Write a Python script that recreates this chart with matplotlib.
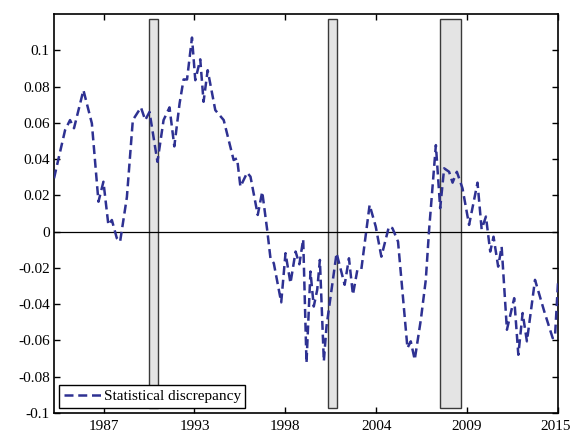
import matplotlib
matplotlib.use("Agg")
import matplotlib.pyplot as plt
import matplotlib.transforms as mtransforms

# turning points of the series (year, value)
years = [1984.50, 1985.17, 1985.47, 1985.71, 1986.28, 1986.79, 1987.19, 1987.49,
         1987.79, 1988.00, 1988.30, 1988.50, 1988.91, 1989.27, 1989.76, 1990.02,
         1990.28, 1990.76, 1991.13, 1991.49, 1991.78, 1992.10, 1992.34, 1992.55,
         1992.85, 1993.05, 1993.35, 1993.55, 1993.80, 1994.26, 1994.77, 1995.37,
         1995.58, 1995.78, 1996.19, 1996.39, 1996.83, 1997.10, 1997.40, 1997.60,
         1997.80, 1998.25, 1998.51, 1998.81, 1999.12, 1999.35, 1999.58, 1999.78,
         2000.02, 2000.22, 2000.43, 2000.59, 2000.83, 2000.99, 2001.60, 2002.09,
         2002.35, 2002.59, 2002.86, 2003.10, 2003.60, 2003.97, 2004.31, 2004.77,
         2004.98, 2005.32, 2005.89, 2006.09, 2006.33, 2006.70, 2007.00, 2007.20,
         2007.61, 2007.87, 2008.11, 2008.41, 2008.62, 2008.88, 2009.22, 2009.62,
         2010.13, 2010.38, 2010.64, 2010.90, 2011.10, 2011.38, 2011.59, 2011.91,
         2012.35, 2012.60, 2012.86, 2013.12, 2013.61, 2014.17, 2014.68, 2014.82,
         2015.00]
discrepancy = [0.0294, 0.0560, 0.0615, 0.0570, 0.0780, 0.0597, 0.0165, 0.0275,
               0.0037, 0.0064, -0.0036, -0.0055, 0.0190, 0.0615, 0.0685, 0.0615,
               0.0660, 0.0385, 0.0615, 0.0685, 0.0470, 0.0707, 0.0839, 0.0839,
               0.1070, 0.0835, 0.0950, 0.0716, 0.0890, 0.0670, 0.0615, 0.0395,
               0.0404, 0.0248, 0.0325, 0.0303, 0.0092, 0.0220, 0.0010, -0.0147,
               -0.0174, -0.0390, -0.0119, -0.0284, -0.0110, -0.0180, -0.0042, -0.0724,
               -0.0220, -0.0413, -0.0320, -0.0156, -0.0715, -0.0523, -0.0119, -0.0293,
               -0.0147, -0.0348, -0.0210, -0.0207, 0.0147, 0.0028, -0.0138, 0.0028,
               0.0019, -0.0055, -0.0642, -0.0605, -0.0706, -0.0486, -0.0266, 0.0010,
               0.0477, 0.0129, 0.0349, 0.0330, 0.0270, 0.0330, 0.0239, 0.0037,
               0.0270, 0.0013, 0.0083, -0.0110, -0.0028, -0.0193, -0.0083, -0.0541,
               -0.0367, -0.0679, -0.0449, -0.0605, -0.0266, -0.0440, -0.0587, -0.0578,
               -0.0284]

# shaded recession bands
rec_start = [1990.25, 2001.10, 2007.85]
rec_end = [1990.80, 2001.60, 2009.15]
rec_top = 0.117
rec_bottom = -0.097

xticks = [1987.5, 1993.0, 1998.5, 2004.0, 2009.5, 2015.0]
xtick_labels = ["1987", "1993", "1998", "2004", "2009", "2015"]
yticks = [-0.1, -0.08, -0.06, -0.04, -0.02, 0, 0.02, 0.04, 0.06, 0.08, 0.1]
ytick_labels = ["-0.1", "-0.08", "-0.06", "-0.04", "-0.02", "0",
                "0.02", "0.04", "0.06", "0.08", "0.1"]

plt.rcParams["font.family"] = ["Liberation Serif", "DejaVu Serif"]
plt.rcParams["font.size"] = 11

fig = plt.figure(figsize=(5.71, 4.36), dpi=100)
ax = fig.add_axes([0.0946, 0.0528, 0.8826, 0.9151])

widths = [e - s for s, e in zip(rec_start, rec_end)]
ax.bar(rec_start, rec_top - rec_bottom, width=widths, bottom=rec_bottom,
       align="edge", color="#e4e4e4", edgecolor="#3a3a3a", linewidth=1.0, zorder=1)
ax.axhline(0, color="black", linewidth=0.9, zorder=2)
ax.plot(years, discrepancy, color="#2e3192", linewidth=1.8,
        dashes=(3.6, 1.9), label="Statistical discrepancy", zorder=3)

ax.set_xlim(1984.5, 2015.0)
ax.set_ylim(-0.1, 0.12)
ax.set_xticks(xticks)
ax.set_xticklabels(xtick_labels)
ax.set_yticks(yticks)
ax.set_yticklabels(ytick_labels)
ax.tick_params(direction="in", top=True, right=True, length=4, width=1)
ax.tick_params(axis="y", pad=3)
ax.tick_params(axis="x", pad=5)
for s in ax.spines.values():
    s.set_linewidth(1.2)

# keep the last year label inside the figure edge
last = ax.get_xticklabels()[-1]
last.set_transform(last.get_transform() +
                   mtransforms.ScaledTranslation(-2 / 72, 0, fig.dpi_scale_trans))

leg = ax.legend(loc="lower left", fancybox=False, edgecolor="black",
                framealpha=1, borderaxespad=0.35, handlelength=2.4,
                handletextpad=0.2, borderpad=0.3, fontsize=11)
leg.get_frame().set_linewidth(1.0)
for t in leg.get_texts():
    t.set_text("Statistical discrepancy")

fig.savefig("out.png", dpi=100)
